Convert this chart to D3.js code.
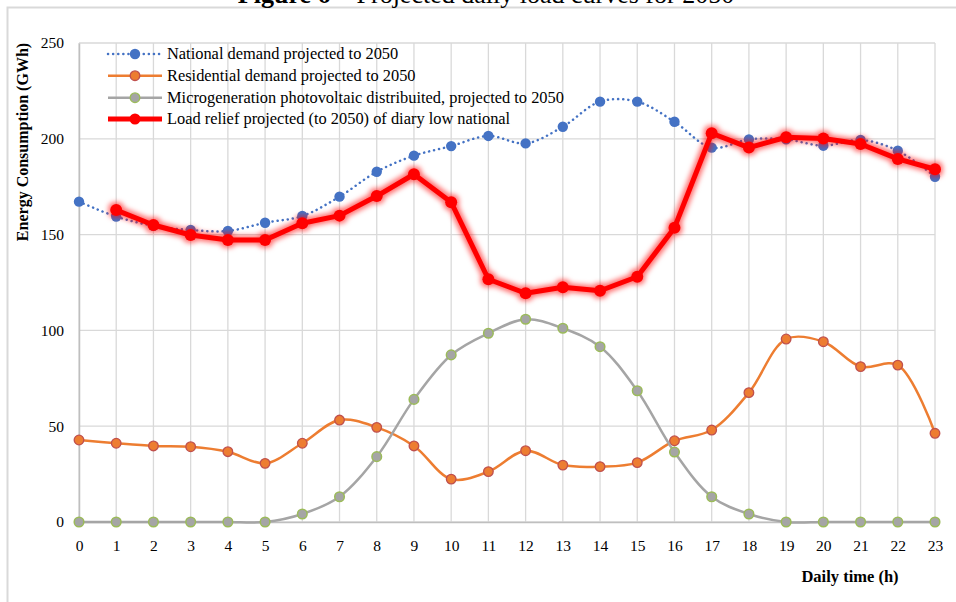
<!DOCTYPE html>
<html>
<head>
<meta charset="utf-8">
<script src="https://cdn.jsdelivr.net/npm/d3@7/dist/d3.min.js"></script>
<style>
  html, body { margin: 0; padding: 0; background: #ffffff; }
  svg { display: block; font-family: "Liberation Serif", "Times New Roman", serif; }
</style>
</head>
<body>
<svg id="chart" width="956" height="602"></svg>
<script>
// Hours of the day
const hours = d3.range(0, 24);
const xTickLabels = hours.map(String);
const yTicks = [0, 50, 100, 150, 200, 250];

// Series values (GWh)
const national = [167.2, 159.4, 154.6, 152.4, 151.9, 156.2, 159.7, 169.8, 182.8, 191.2, 196.2, 201.5,
                  197.6, 206.3, 219.4, 219.4, 208.9, 195.4, 199.7, 199.7, 196.4, 199.4, 193.8, 180.2];
const residential = [42.8, 41.1, 39.7, 39.3, 36.7, 30.6, 41.1, 53.2, 49.4, 39.7, 22.4, 26.3,
                     37.2, 29.7, 28.9, 31.0, 42.4, 48.0, 67.5, 95.5, 94.1, 81.1, 81.9, 46.3];
const photovoltaic = [0, 0, 0, 0, 0, 0, 4.2, 13.2, 34.1, 64.0, 87.2, 98.5,
                      105.8, 101.1, 91.5, 68.5, 36.5, 13.2, 4.2, 0, 0, 0, 0, 0];
// Load relief starts at hour 1
const reliefHours = d3.range(1, 24);
const relief = [162.8, 155.0, 149.8, 147.2, 147.2, 155.9, 159.9, 170.1, 181.5, 166.9, 126.7,
                119.4, 122.5, 120.7, 128.0, 153.6, 202.9, 195.4, 200.8, 200.2, 197.3, 189.5, 184.1];

const seriesNames = [
  "National demand projected to 2050",
  "Residential demand projected to 2050",
  "Microgeneration photovoltaic distribuited, projected to 2050",
  "Load relief projected (to 2050) of diary low national"
];

const svg = d3.select("#chart");

// Glow for the load-relief series
const defs = svg.append("defs");
const glow = defs.append("filter").attr("id", "redGlow")
  .attr("x", "-10%").attr("y", "-20%").attr("width", "120%").attr("height", "140%");
glow.append("feMorphology").attr("in", "SourceAlpha").attr("operator", "dilate").attr("radius", 1.5).attr("result", "grown");
glow.append("feGaussianBlur").attr("in", "grown").attr("stdDeviation", 2.6).attr("result", "blur");
glow.append("feFlood").attr("flood-color", "#ff0000").attr("flood-opacity", 0.55).attr("result", "col");
glow.append("feComposite").attr("in", "col").attr("in2", "blur").attr("operator", "in").attr("result", "halo");
const merge = glow.append("feMerge");
merge.append("feMergeNode").attr("in", "halo");
merge.append("feMergeNode").attr("in", "SourceGraphic");

// Chart frame
svg.append("path")
  .attr("d", "M7.5,602 L7.5,7.5 L956,7.5")
  .attr("fill", "none").attr("stroke", "#d9d9d9").attr("stroke-width", 2);

// Title (runs off the top of the page)
svg.append("text")
  .attr("x", 486).attr("y", 3).attr("text-anchor", "middle")
  .attr("font-size", 26).attr("fill", "#000")
  .call(t => {
    t.append("tspan").attr("font-weight", "bold").text("Figure 6");
    t.append("tspan").text(" – Projected daily load curves for 2050");
  });

const x = d3.scaleLinear().domain([0, 23]).range([79, 935]);
const y = d3.scaleLinear().domain([0, 250]).range([522, 43]);

// Grid
const grid = svg.append("g");
grid.selectAll("line.v").data(hours).join("line")
  .attr("x1", d => x(d)).attr("x2", d => x(d))
  .attr("y1", y(250)).attr("y2", y(0))
  .attr("stroke", "#d9d9d9").attr("stroke-width", 1.3);
grid.selectAll("line.h").data(yTicks).join("line")
  .attr("x1", x(0)).attr("x2", x(23))
  .attr("y1", d => y(d)).attr("y2", d => y(d))
  .attr("stroke", "#d9d9d9").attr("stroke-width", 1.3);

// Axes
const xAxis = d3.axisBottom(x).tickValues(hours).tickFormat((d, i) => xTickLabels[i]).tickSize(0).tickPadding(18);
const gx = svg.append("g").attr("transform", `translate(0,${y(0)})`).call(xAxis);
gx.select(".domain").attr("stroke", "#bfbfbf").attr("stroke-width", 1.5);
gx.selectAll("text").attr("font-size", 15.5).attr("fill", "#000")
  .attr("font-family", "Liberation Serif, Times New Roman, serif");

const yAxis = d3.axisLeft(y).tickValues(yTicks).tickSize(0).tickPadding(15);
const gy = svg.append("g").attr("transform", `translate(${x(0)},0)`).call(yAxis);
gy.select(".domain").attr("stroke", "#bfbfbf").attr("stroke-width", 1.5);
gy.selectAll("text").attr("font-size", 15.5).attr("fill", "#000")
  .attr("font-family", "Liberation Serif, Times New Roman, serif");

// Axis titles
svg.append("text")
  .attr("transform", "translate(28,142) rotate(-90)")
  .attr("text-anchor", "middle").attr("font-size", 16).attr("font-weight", "bold")
  .text("Energy Consumption (GWh)");
svg.append("text")
  .attr("x", 850).attr("y", 582).attr("text-anchor", "middle")
  .attr("font-size", 16.5).attr("font-weight", "bold")
  .text("Daily time (h)");

const smooth = d3.curveCatmullRom.alpha(0.5);

// National demand
svg.append("path")
  .datum(hours)
  .attr("d", d3.line().x(h => x(h)).y(h => y(national[h])).curve(smooth))
  .attr("fill", "none").attr("stroke", "#4472c4").attr("stroke-width", 2.5)
  .attr("stroke-dasharray", "0.1,5").attr("stroke-linecap", "round");
svg.append("g").selectAll("circle").data(hours).join("circle")
  .attr("cx", h => x(h)).attr("cy", h => y(national[h])).attr("r", 5.2)
  .attr("fill", "#4472c4");

// Residential demand
svg.append("path")
  .datum(hours)
  .attr("d", d3.line().x(h => x(h)).y(h => y(residential[h])).curve(smooth))
  .attr("fill", "none").attr("stroke", "#ed7d31").attr("stroke-width", 2.5);
svg.append("g").selectAll("circle").data(hours).join("circle")
  .attr("cx", h => x(h)).attr("cy", h => y(residential[h])).attr("r", 4.8)
  .attr("fill", "#ed7d31").attr("stroke", "#c0504d").attr("stroke-width", 1.3);

// Photovoltaic microgeneration
svg.append("path")
  .datum(hours)
  .attr("d", d3.line().x(h => x(h)).y(h => y(photovoltaic[h])).curve(smooth))
  .attr("fill", "none").attr("stroke", "#a5a5a5").attr("stroke-width", 2.5);
svg.append("g").selectAll("circle").data(hours).join("circle")
  .attr("cx", h => x(h)).attr("cy", h => y(photovoltaic[h])).attr("r", 4.8)
  .attr("fill", "#a5a5a5").attr("stroke", "#9bbb59").attr("stroke-width", 1.5);

// Load relief
const reliefG = svg.append("g").attr("filter", "url(#redGlow)");
reliefG.append("path")
  .datum(reliefHours)
  .attr("d", d3.line().x(h => x(h)).y((h, i) => y(relief[i])))
  .attr("fill", "none").attr("stroke", "#ff0000").attr("stroke-width", 5)
  .attr("stroke-linejoin", "round");
reliefG.selectAll("circle").data(reliefHours).join("circle")
  .attr("cx", h => x(h)).attr("cy", (h, i) => y(relief[i])).attr("r", 6)
  .attr("fill", "#ff0000");

// Legend
const legend = svg.append("g");
const rowY = [54, 75.7, 97.7, 119];
const styles = [
  { stroke: "#4472c4", width: 2.5, dash: "0.1,5", fill: "#4472c4", ms: "none", r: 5.2 },
  { stroke: "#ed7d31", width: 2.5, dash: null, fill: "#ed7d31", ms: "#c0504d", r: 4.8 },
  { stroke: "#a5a5a5", width: 2.5, dash: null, fill: "#a5a5a5", ms: "#9bbb59", r: 4.8 },
  { stroke: "#ff0000", width: 5, dash: null, fill: "#ff0000", ms: "none", r: 5.5 }
];
seriesNames.forEach((name, i) => {
  const s = styles[i];
  const g = legend.append("g");
  g.append("line").attr("x1", 108).attr("x2", 162).attr("y1", rowY[i]).attr("y2", rowY[i])
    .attr("stroke", s.stroke).attr("stroke-width", s.width)
    .attr("stroke-dasharray", s.dash).attr("stroke-linecap", s.dash ? "round" : "butt");
  g.append("circle").attr("cx", 135).attr("cy", rowY[i]).attr("r", s.r)
    .attr("fill", s.fill).attr("stroke", s.ms).attr("stroke-width", 1.3);
  g.append("text").attr("x", 167).attr("y", rowY[i] + 5)
    .attr("font-size", 16.4).attr("fill", "#000").text(name);
});
</script>
</body>
</html>
